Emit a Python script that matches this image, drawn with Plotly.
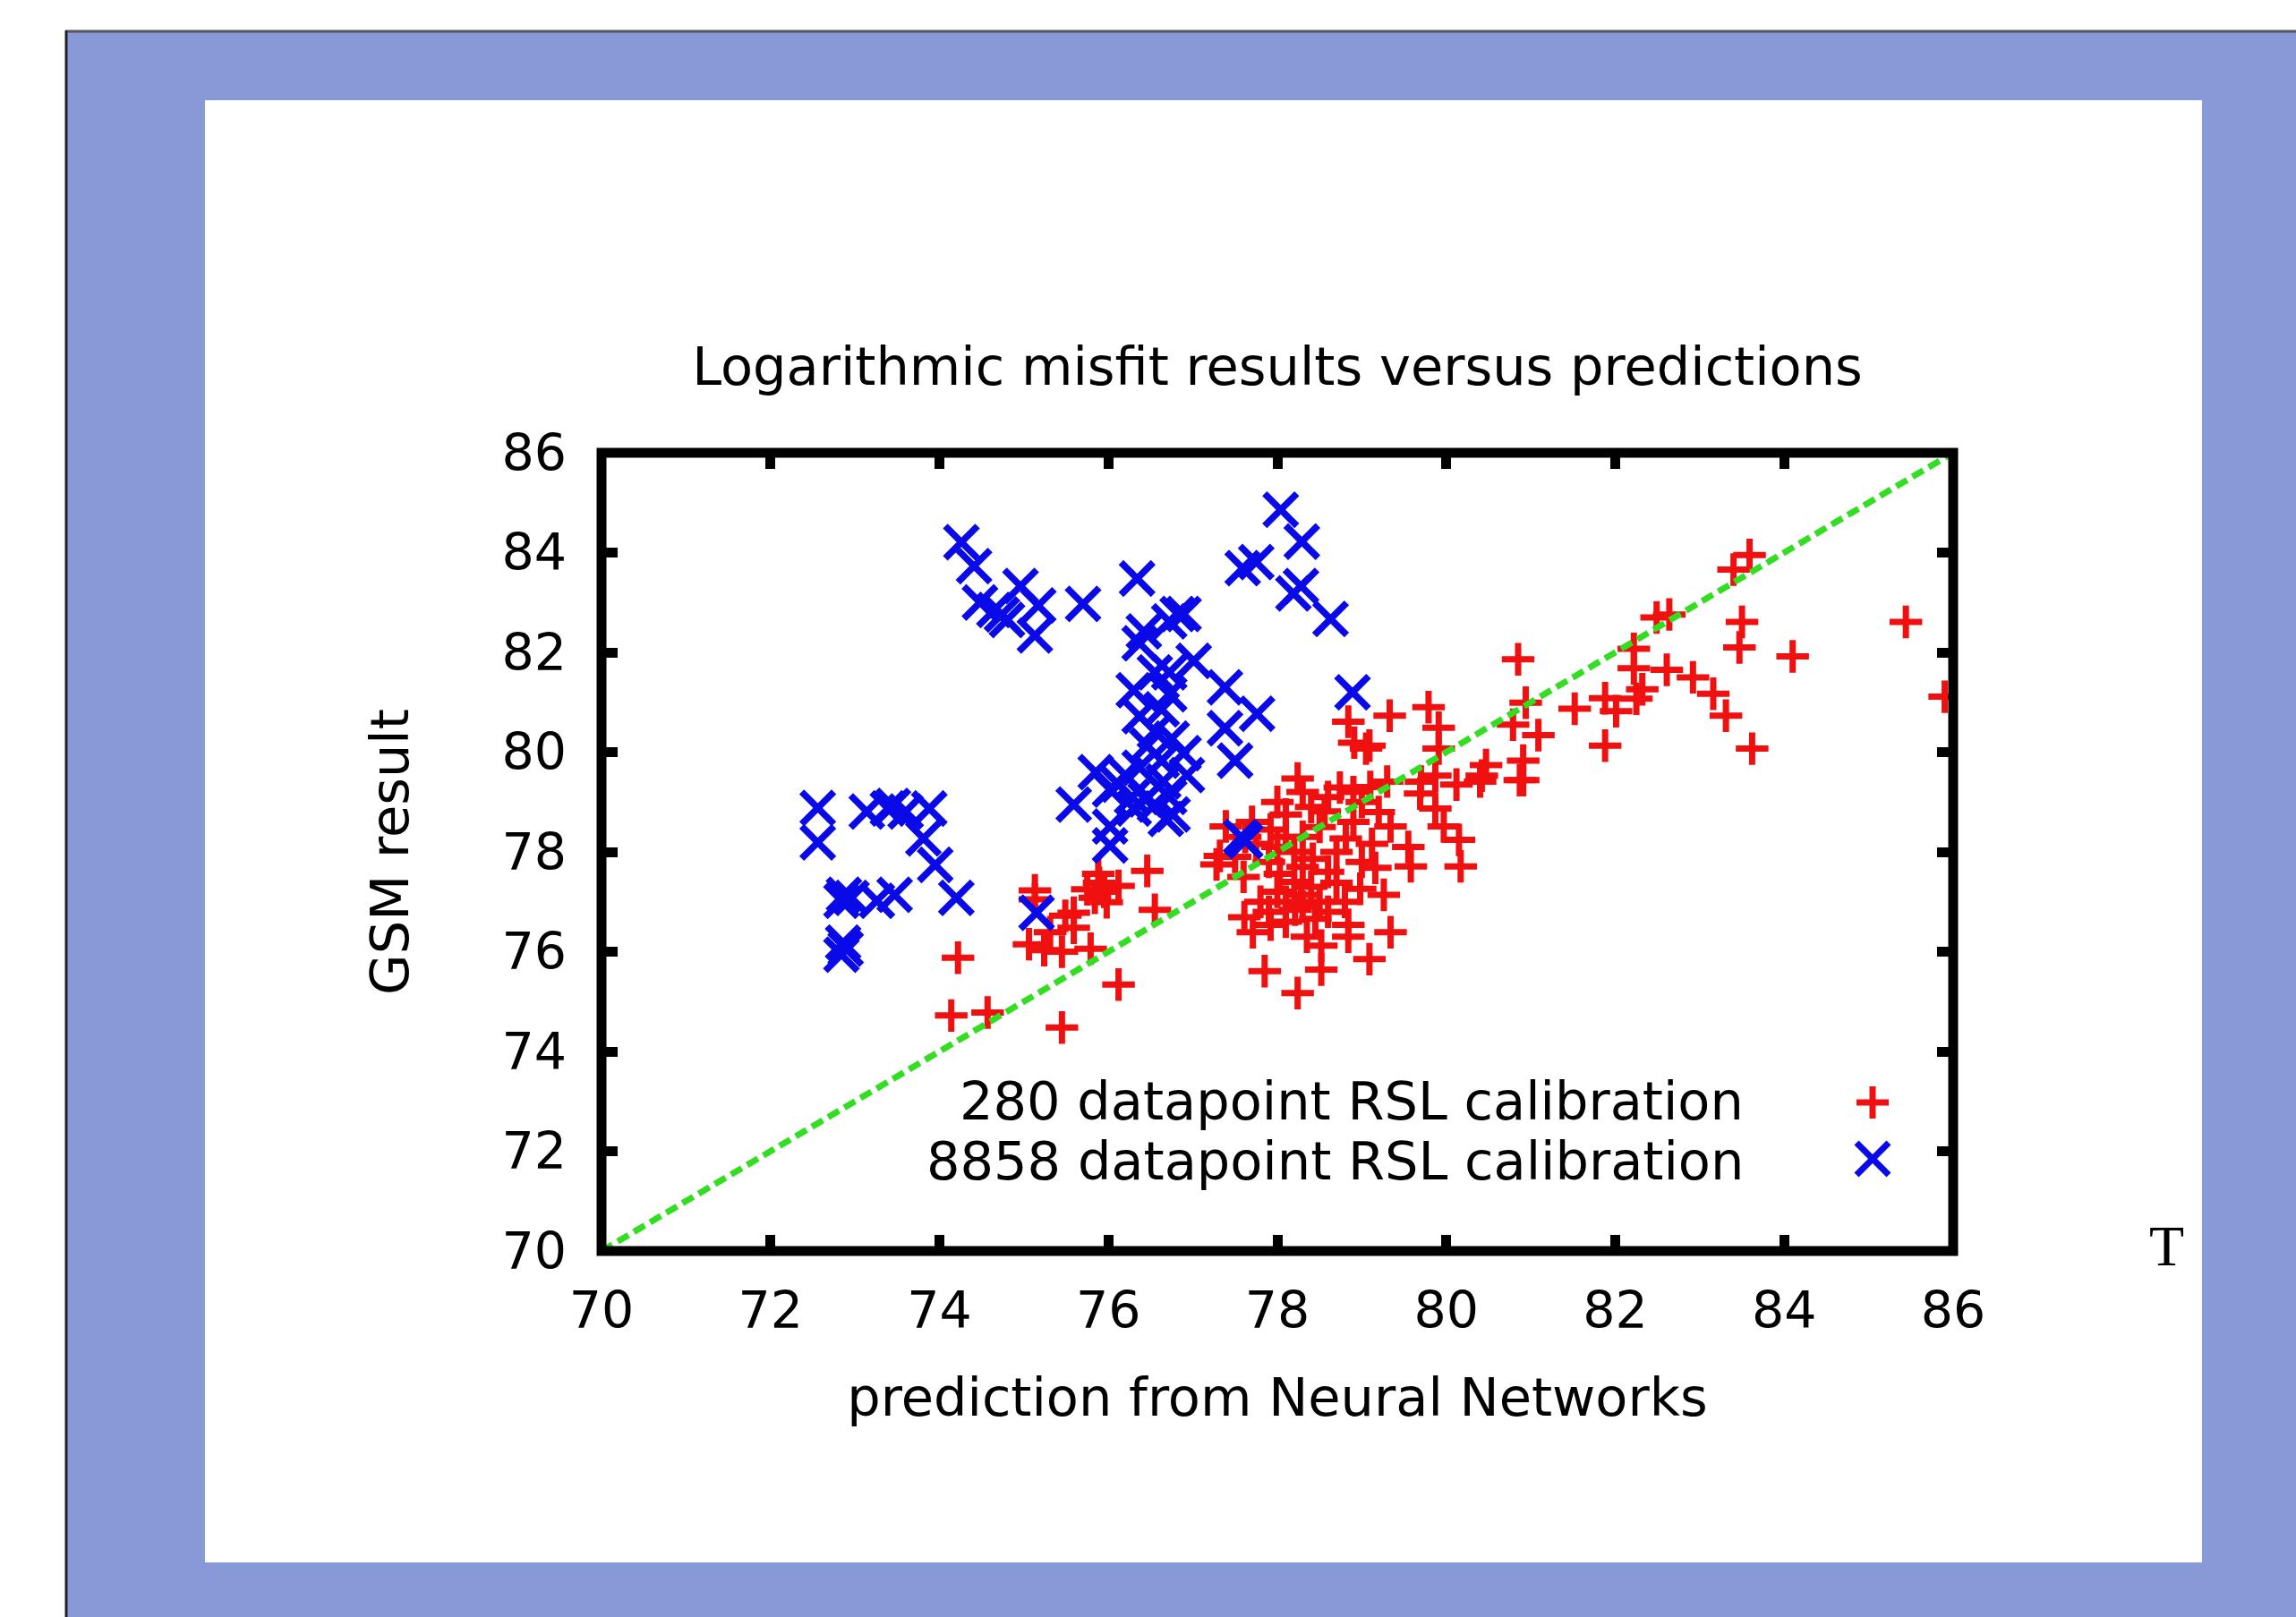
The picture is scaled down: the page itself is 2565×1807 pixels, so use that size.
import plotly.graph_objects as go

# ---------------- data ----------------
red_x = [74.14, 74.57, 74.22, 75.45, 76.12, 75.06, 75.24, 75.45, 75.79, 75.31, 75.59, 75.49,
         75.59, 75.13, 75.13, 75.89, 75.84, 75.98, 76.12, 75.88, 76.46, 76.55, 75.95, 75.75,
         77.39, 77.32, 77.28, 77.62, 77.85, 78.24, 78.52, 79.09, 79.34, 77.61, 77.71, 77.92,
         78.35, 78.52, 78.84, 78.84, 78.45, 78.21, 78.28, 78.98, 79.26, 79.16, 79.58, 79.55,
         79.12, 78.81, 78.42, 78.03, 78.70, 77.75, 77.92, 78.10, 78.56, 79.34, 78.24, 78.74,
         79.30, 79.69, 79.87, 79.97, 80.15, 80.17, 80.40, 80.87, 79.87,
         78.0, 78.1, 78.2, 78.3, 78.4, 78.5, 78.6, 78.2, 78.0, 77.9, 78.3, 78.5, 78.7, 78.9,
         79.0, 78.6, 78.4, 77.8, 77.9, 78.1, 78.3, 78.6, 78.8, 79.0, 79.2, 78.1, 77.6, 77.5,
         77.7, 78.0, 78.3, 78.9, 79.1,
         78.84, 79.33, 79.79, 79.91, 79.91, 79.09, 78.91, 79.05, 80.42, 80.12, 79.70, 80.47,
         80.85, 80.94, 80.79, 81.09, 80.91, 80.91,
         81.52, 81.88, 81.88, 82.01, 82.22, 82.22, 82.25, 82.32, 82.49, 82.64, 82.61, 82.92,
         83.16, 83.31, 83.62, 83.59, 83.40, 83.50, 83.47, 84.10, 85.44, 85.90]
red_y = [74.72, 74.78, 75.88, 74.48, 75.34, 76.15, 76.03, 76.00, 76.06, 76.39, 76.48, 76.72,
         76.78, 77.23, 77.05, 77.38, 77.08, 76.99, 77.32, 77.56, 77.62, 76.84, 77.20, 77.25,
         78.51, 77.92, 77.75, 78.30, 75.61, 75.17, 75.64, 75.85, 76.39, 76.69, 76.39, 76.54,
         76.30, 76.12, 76.30, 76.54, 76.66, 76.84, 77.14, 77.26, 77.14, 77.68, 77.71, 78.10,
         78.16, 78.27, 77.86, 77.56, 77.38, 78.16, 78.45, 78.75, 78.81, 78.51, 79.47, 79.29,
         79.41, 79.17, 78.87, 78.51, 78.24, 77.71, 79.41, 79.44, 79.53,
         77.2, 77.0, 77.4, 77.7, 77.3, 77.0, 77.6, 78.0, 78.1, 77.8, 78.3, 78.5, 78.0, 78.6,
         79.0, 79.1, 78.9, 77.0, 76.8, 76.6, 76.9, 76.8, 77.0, 77.8, 78.8, 78.3, 77.5, 77.9,
         78.6, 79.0, 79.2, 79.2, 79.3,
         80.61, 80.73, 80.90, 80.49, 80.07, 80.13, 80.19, 80.07, 79.53, 79.35, 79.41, 79.74,
         81.86, 80.99, 80.55, 80.34, 79.83, 79.44,
         80.87, 80.13, 81.08, 80.82, 82.07, 81.68, 81.07, 81.26, 82.70, 82.76, 81.65, 81.50,
         81.17, 80.73, 80.07, 83.95, 83.66, 82.61, 82.10, 81.92, 82.61, 81.11]

blue_x = [72.56, 72.56, 73.14, 73.39, 73.45, 73.60, 73.88, 73.81, 73.95, 74.20, 72.87, 72.96,
          72.84, 73.47, 73.26, 72.86, 72.89, 72.84, 75.15,
          74.26, 74.41, 74.48, 74.65, 74.74, 74.80, 74.96, 75.17, 75.13, 75.70,
          76.34, 76.42, 76.37, 76.72, 76.82, 76.89, 77.01, 76.72, 76.55, 76.30, 76.72, 76.63,
          76.37, 76.55, 76.75, 76.46, 76.63, 76.89, 76.93, 76.37, 76.20, 76.02, 75.85, 75.59,
          76.02, 76.02, 76.28, 76.55, 76.68, 76.72, 77.38, 77.38, 77.50, 77.76, 76.12, 76.30,
          76.65, 76.76, 76.44,
          78.04, 78.29, 77.59, 77.75, 78.19, 78.28, 78.63, 78.89, 77.62, 77.57]
blue_y = [78.88, 78.19, 78.81, 78.87, 78.92, 78.81, 78.87, 78.27, 77.74, 77.08, 77.14, 77.08,
          77.02, 77.14, 77.02, 76.18, 76.06, 75.94, 76.78,
          84.21, 83.73, 83.00, 82.85, 82.76, 82.65, 83.33, 82.94, 82.34, 82.97,
          83.48, 82.42, 82.18, 82.62, 82.77, 82.77, 81.83, 81.60, 81.60, 81.24, 81.16, 80.86,
          80.72, 80.42, 80.27, 80.13, 79.83, 79.98, 79.54, 79.69, 79.54, 79.25, 79.60, 78.95,
          78.51, 78.13, 79.10, 78.95, 78.66, 79.10, 81.30, 80.48, 79.83, 80.77, 79.35, 78.87,
          79.41, 78.75, 79.05,
          84.86, 84.22, 83.69, 83.81, 83.18, 83.33, 82.67, 81.20, 78.22, 78.30]

diag = [70, 86]                      # y = x reference line
tick_vals = [70, 72, 74, 76, 78, 80, 82, 84, 86]

title_text = "Logarithmic misfit results versus predictions"
x_title = "prediction from Neural Networks"
y_title = "GSM result"
red_name = "280 datapoint RSL calibration"
blue_name = "8858 datapoint RSL calibration"

# ---------------- layout geometry (pixels) ----------------
W, H = 2565, 1807
L, R, T, B = 672, 2182, 506, 1398
PW, PH = R - L, B - T


def px(X):
    return (X - L) / PW


def py(Y):
    return (B - Y) / PH


FONT = "DejaVu Sans"
RED = "#f01010"
BLUE = "#0a0ae8"
fig = go.Figure()

fig.add_trace(go.Scatter(x=red_x, y=red_y, mode="markers", name=red_name, showlegend=False,
                         marker=dict(symbol="cross-thin", size=26, color=RED,
                                     line=dict(width=7, color=RED))))
fig.add_trace(go.Scatter(x=blue_x, y=blue_y, mode="markers", name=blue_name, showlegend=False,
                         marker=dict(symbol="x-thin", size=36, color=BLUE,
                                     line=dict(width=7.5, color=BLUE))))
fig.add_trace(go.Scatter(x=diag, y=diag, mode="lines", showlegend=False, hoverinfo="skip",
                         line=dict(color="#33dd22", width=7, dash="14px,7px")))


def key_line(X0, Y0, X1, Y1, color):
    return dict(type="line", xref="paper", yref="paper", x0=px(X0), y0=py(Y0), x1=px(X1), y1=py(Y1),
                line=dict(width=7, color=color), layer="above")


# key samples (gnuplot-style: text first, sample on the right)
KX, KY1, KY2, ARM = 2092, 1232, 1295, 18
shapes = [
    # blue patterned border
    dict(type="rect", xref="paper", yref="paper", x0=px(73), x1=px(2600), y0=py(34), y1=py(1850),
         fillcolor="#879ad7", line=dict(width=0), layer="below"),
    dict(type="line", xref="paper", yref="paper", x0=px(73), x1=px(2600), y0=py(35), y1=py(35),
         line=dict(width=3, color="#555555"), layer="below"),
    dict(type="line", xref="paper", yref="paper", x0=px(74), x1=px(74), y0=py(34), y1=py(1850),
         line=dict(width=3, color="#222222"), layer="below"),
    # white inner panel
    dict(type="rect", xref="paper", yref="paper", x0=px(229), x1=px(2460), y0=py(112), y1=py(1746),
         fillcolor="white", line=dict(width=0), layer="below"),
    # plot frame
    dict(type="rect", xref="paper", yref="paper", x0=0, x1=1, y0=0, y1=1,
         line=dict(width=11, color="black"), layer="above"),
    key_line(KX - ARM, KY1, KX + ARM, KY1, RED),
    key_line(KX, KY1 - ARM, KX, KY1 + ARM, RED),
    key_line(KX - ARM, KY2 - ARM, KX + ARM, KY2 + ARM, BLUE),
    key_line(KX - ARM, KY2 + ARM, KX + ARM, KY2 - ARM, BLUE),
]

annotations = [
    dict(text=red_name, xref="paper", yref="paper", x=px(1950), y=py(1230), xanchor="right",
         yanchor="middle", showarrow=False, font=dict(family=FONT, size=59, color="black")),
    dict(text=blue_name, xref="paper", yref="paper", x=px(1950), y=py(1297), xanchor="right",
         yanchor="middle", showarrow=False, font=dict(family=FONT, size=59, color="black")),
    dict(text="T", xref="paper", yref="paper", x=px(2420), y=py(1392), xanchor="center",
         yanchor="middle", showarrow=False, font=dict(family="Liberation Serif", size=64, color="black")),
]

axis_common = dict(range=[70, 86], tickvals=tick_vals, ticks="inside", ticklen=18, tickwidth=11,
                   tickcolor="black", mirror="ticks", showline=False, showgrid=False, zeroline=False,
                   tickfont=dict(family=FONT, size=57, color="black"))

fig.update_layout(
    width=W, height=H,
    margin=dict(l=L, r=W - R, t=T, b=H - B, pad=0),
    paper_bgcolor="white", plot_bgcolor="white",
    title=dict(text=title_text, x=0.5, xref="paper", xanchor="center",
               y=1 - 409 / H, yref="container", yanchor="middle",
               font=dict(family=FONT, size=59, color="black")),
    xaxis=dict(**axis_common, ticklabelstandoff=28,
               title=dict(text=x_title, standoff=44, font=dict(family=FONT, size=59, color="black"))),
    yaxis=dict(**axis_common, ticklabelstandoff=38,
               title=dict(text=y_title, standoff=84, font=dict(family=FONT, size=59, color="black"))),
    shapes=shapes,
    annotations=annotations,
    showlegend=False,
)

fig.write_html("out.html")
